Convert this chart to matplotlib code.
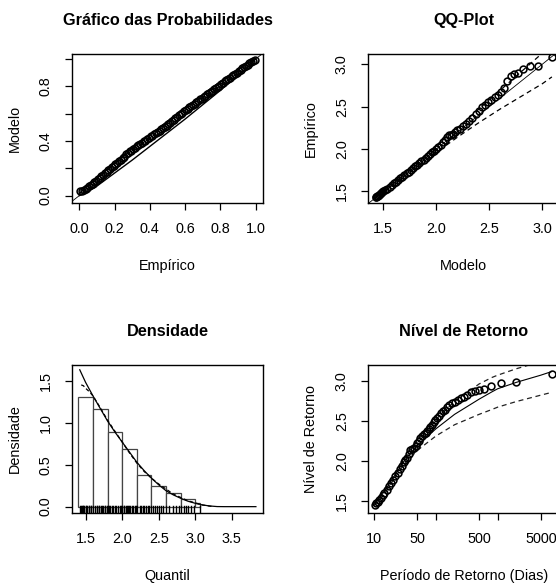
import matplotlib
matplotlib.use("Agg")
import matplotlib.pyplot as plt

plt.rcParams["font.family"] = ["Liberation Sans", "DejaVu Sans"]
plt.rcParams["font.size"] = 10.4

# ---- Grafico das probabilidades (empirico x modelo)
pp_emp = [0.005, 0.015, 0.025, 0.035, 0.045, 0.055, 0.065, 0.075, 0.085, 0.095,
          0.105, 0.115, 0.125, 0.135, 0.145, 0.155, 0.165, 0.175, 0.185, 0.195,
          0.205, 0.215, 0.225, 0.235, 0.245, 0.255, 0.265, 0.275, 0.285, 0.295,
          0.305, 0.315, 0.325, 0.335, 0.345, 0.355, 0.365, 0.375, 0.385, 0.395,
          0.405, 0.415, 0.425, 0.435, 0.445, 0.455, 0.465, 0.475, 0.485, 0.495,
          0.505, 0.515, 0.525, 0.535, 0.545, 0.555, 0.565, 0.575, 0.585, 0.595,
          0.605, 0.615, 0.625, 0.635, 0.645, 0.655, 0.665, 0.675, 0.685, 0.695,
          0.705, 0.715, 0.725, 0.735, 0.745, 0.755, 0.765, 0.775, 0.785, 0.795,
          0.805, 0.815, 0.825, 0.835, 0.845, 0.855, 0.865, 0.875, 0.885, 0.895,
          0.905, 0.915, 0.925, 0.935, 0.945, 0.955, 0.965, 0.975, 0.985, 0.995]
pp_mod = [0.031, 0.037, 0.043, 0.051, 0.059, 0.069, 0.081, 0.088, 0.102, 0.110,
          0.123, 0.131, 0.144, 0.152, 0.165, 0.173, 0.187, 0.195, 0.209, 0.217,
          0.231, 0.239, 0.255, 0.263, 0.279, 0.286, 0.302, 0.309, 0.323, 0.330,
          0.344, 0.351, 0.362, 0.368, 0.379, 0.385, 0.397, 0.403, 0.415, 0.421,
          0.433, 0.439, 0.451, 0.457, 0.469, 0.475, 0.487, 0.493, 0.505, 0.511,
          0.524, 0.530, 0.543, 0.551, 0.565, 0.573, 0.587, 0.595, 0.608, 0.616,
          0.629, 0.636, 0.648, 0.655, 0.667, 0.674, 0.686, 0.692, 0.704, 0.711,
          0.723, 0.729, 0.741, 0.748, 0.760, 0.767, 0.779, 0.786, 0.798, 0.805,
          0.817, 0.824, 0.836, 0.843, 0.855, 0.863, 0.874, 0.882, 0.893, 0.901,
          0.912, 0.920, 0.931, 0.939, 0.950, 0.958, 0.969, 0.977, 0.988, 0.996]
pp_band_x = [0.0, 0.05, 0.1, 0.2, 0.3, 0.4, 0.5, 0.6, 0.7, 0.8, 0.9, 0.95, 1.0]
pp_lower = [0.0, 0.03, 0.07, 0.165, 0.26, 0.36, 0.46, 0.56, 0.665, 0.77, 0.88, 0.935, 1.0]
pp_upper = [0.015, 0.075, 0.13, 0.24, 0.345, 0.445, 0.545, 0.645, 0.74, 0.835, 0.925, 0.965, 1.0]

# ---- QQ-plot (modelo x empirico)
qq_mod = [1.43, 1.435, 1.44, 1.45, 1.46, 1.47, 1.48, 1.49, 1.50, 1.52, 1.54, 1.56, 1.58, 1.60,
          1.62, 1.64, 1.66, 1.68, 1.70, 1.72, 1.74, 1.76, 1.78, 1.80, 1.82, 1.84, 1.86, 1.88,
          1.90, 1.92, 1.94, 1.96, 1.98, 2.00, 2.02, 2.04, 2.06, 2.08, 2.10, 2.12, 2.14, 2.16,
          2.18, 2.20, 2.22, 2.25, 2.28, 2.31, 2.34, 2.37, 2.40, 2.43, 2.46, 2.49, 2.52, 2.55,
          2.58, 2.61, 2.64, 2.67, 2.70, 2.73, 2.77, 2.82, 2.88, 2.96, 3.09]
qq_emp = [1.44, 1.44, 1.445, 1.45, 1.46, 1.47, 1.48, 1.49, 1.50, 1.515, 1.535, 1.555, 1.575, 1.595,
          1.615, 1.635, 1.655, 1.675, 1.695, 1.715, 1.735, 1.755, 1.775, 1.795, 1.815, 1.835, 1.855, 1.875,
          1.90, 1.92, 1.94, 1.96, 1.98, 2.005, 2.03, 2.05, 2.08, 2.11, 2.14, 2.16, 2.17, 2.18,
          2.20, 2.22, 2.24, 2.27, 2.30, 2.33, 2.37, 2.41, 2.45, 2.49, 2.52, 2.55, 2.58, 2.61,
          2.64, 2.67, 2.72, 2.80, 2.86, 2.88, 2.90, 2.94, 2.975, 2.98, 3.085]
qq_band_x = [1.43, 1.7, 2.0, 2.2, 2.4, 2.6, 2.8, 3.0, 3.09]
qq_lower = [1.43, 1.68, 1.96, 2.14, 2.31, 2.47, 2.62, 2.77, 2.85]
qq_upper = [1.44, 1.72, 2.04, 2.25, 2.47, 2.69, 2.91, 3.13, 3.23]

# ---- Densidade
hist_edges = [1.4, 1.6, 1.8, 2.0, 2.2, 2.4, 2.6, 2.8, 3.0, 3.07]
hist_dens = [1.31, 1.16, 0.89, 0.69, 0.38, 0.25, 0.16, 0.09, 0.04]
dens_x = [1.42, 1.5, 1.6, 1.7, 1.8, 1.9, 2.0, 2.1, 2.2, 2.3, 2.4, 2.5, 2.6, 2.7, 2.8, 2.9,
          3.0, 3.1, 3.2, 3.3, 3.4, 3.83]
dens_mod = [1.63, 1.48, 1.32, 1.17, 1.02, 0.89, 0.77, 0.65, 0.53, 0.43, 0.34, 0.26, 0.19, 0.14,
            0.10, 0.065, 0.04, 0.02, 0.008, 0.001, 0.0, 0.0]
kde_x = [1.44, 1.47, 1.5, 1.55, 1.6, 1.7, 1.8, 1.9, 2.0, 2.1, 2.2, 2.3, 2.4, 2.5, 2.6, 2.7,
         2.8, 2.9, 3.0, 3.1, 3.2, 3.25]
kde_y = [1.45, 1.44, 1.41, 1.37, 1.32, 1.18, 1.03, 0.90, 0.77, 0.64, 0.52, 0.42, 0.34, 0.27,
         0.21, 0.15, 0.11, 0.07, 0.045, 0.02, 0.006, 0.0]
rug_vals = [1.43, 1.44, 1.45, 1.46, 1.47, 1.48, 1.50, 1.51, 1.52, 1.54, 1.55, 1.57, 1.58, 1.60,
            1.63, 1.65, 1.66, 1.68, 1.69, 1.71, 1.72, 1.74, 1.76, 1.77, 1.79, 1.80, 1.82, 1.84,
            1.86, 1.88, 1.90, 1.92, 1.95, 1.97, 1.99, 2.00, 2.02, 2.03, 2.05, 2.06, 2.08, 2.10,
            2.11, 2.13, 2.15, 2.17, 2.19, 2.21, 2.24, 2.26, 2.28, 2.30, 2.33, 2.35, 2.37, 2.40,
            2.42, 2.45, 2.48, 2.50, 2.53, 2.56, 2.60, 2.64, 2.69, 2.73, 2.78, 2.80, 2.85, 2.88,
            2.90, 2.94, 2.98, 3.07]

# ---- Nivel de retorno
rl_period = [10.3, 10.7, 11.3, 12, 12.7, 13.6, 14.6, 15.8, 17, 18.5, 20, 22, 24, 26, 28, 30,
             32, 34, 36, 38, 41, 44, 47, 50, 53, 56, 60, 64, 68, 72, 76, 81, 86, 92, 98, 105,
             112, 120, 130, 140, 150, 165, 180, 200, 225, 250, 280, 320, 370, 430, 500, 600,
             790, 1150, 2000, 7500]
rl_level = [1.45, 1.47, 1.49, 1.51, 1.54, 1.57, 1.60, 1.64, 1.68, 1.72, 1.76, 1.81, 1.85, 1.90,
            1.94, 1.98, 2.01, 2.04, 2.08, 2.13, 2.15, 2.16, 2.18, 2.22, 2.25, 2.28, 2.31, 2.33,
            2.35, 2.37, 2.40, 2.42, 2.45, 2.48, 2.51, 2.54, 2.56, 2.60, 2.62, 2.64, 2.67, 2.70,
            2.72, 2.74, 2.76, 2.79, 2.80, 2.82, 2.86, 2.875, 2.89, 2.90, 2.94, 2.975, 2.98, 3.085]
rl_curve_x = [10, 12, 15, 20, 30, 50, 100, 200, 500, 800, 1000, 2000, 5000, 7500]
rl_curve = [1.45, 1.53, 1.63, 1.78, 1.99, 2.19, 2.40, 2.58, 2.77, 2.86, 2.90, 2.98, 3.07, 3.115]
rl_upper = [1.46, 1.55, 1.66, 1.81, 2.03, 2.26, 2.52, 2.74, 2.96, 3.04, 3.07, 3.15, 3.24, 3.28]
rl_lower = [1.44, 1.51, 1.60, 1.75, 1.95, 2.13, 2.31, 2.45, 2.58, 2.64, 2.67, 2.74, 2.82, 2.855]

W, H = 556, 585
fig = plt.figure(figsize=(W / 100, H / 100), dpi=100)


def make_axes(x0, y0, x1, y1):
    # caixa em pixels (origem no topo)
    return fig.add_axes([x0 / W, 1 - y1 / H, (x1 - x0) / W, (y1 - y0) / H])


def style(ax, title, xlabel, ylabel):
    ax.set_title(title, fontsize=11.7, fontweight="bold", pad=21)
    ax.set_xlabel(xlabel, labelpad=16.5)
    ax.set_ylabel(ylabel, labelpad=12)
    ax.tick_params(direction="out", length=5, width=0.9, pad=9, colors="black")
    ax.tick_params(axis="y", labelrotation=90)
    for lbl in ax.get_yticklabels():
        lbl.set_va("center")
    for s in ax.spines.values():
        s.set_linewidth(1.0)


mk = dict(marker="o", ls="none", mfc="none", mec="black", ms=4.9, mew=1.15)

# Grafico das Probabilidades
ax1 = make_axes(72.3, 54, 263, 202.7)
ax1.plot([-0.1, 1.1], [-0.1, 1.1], color="black", lw=0.6)
ax1.plot(pp_band_x, pp_lower, color="black", lw=1.0)
ax1.plot(pp_band_x, pp_upper, color="black", lw=1.0)
ax1.plot(pp_emp, pp_mod, **mk)
ax1.set_xlim(-0.04, 1.0425)
ax1.set_ylim(-0.052, 1.037)
ax1.set_xticks([0, 0.2, 0.4, 0.6, 0.8, 1.0])
ax1.set_xticklabels(["0.0", "0.2", "0.4", "0.6", "0.8", "1.0"])
ax1.set_yticks([0, 0.2, 0.4, 0.6, 0.8, 1.0])
ax1.set_yticklabels(["0.0", "", "0.4", "", "0.8", ""])
style(ax1, "Gráfico das Probabilidades", "Empírico", "Modelo")

# QQ-Plot
ax2 = make_axes(368.3, 54, 559, 202.7)
ax2.plot([1.0, 3.5], [1.0, 3.5], color="black", lw=0.6)
ax2.plot(qq_band_x, qq_lower, color="black", lw=0.9, ls=(0, (4, 3)))
ax2.plot(qq_band_x, qq_upper, color="black", lw=0.9, ls=(0, (4, 3)))
ax2.plot(qq_mod, qq_emp, **mk)
ax2.set_xlim(1.359, 3.157)
ax2.set_ylim(1.368, 3.12)
ax2.set_xticks([1.5, 2.0, 2.5, 3.0])
ax2.set_xticklabels(["1.5", "2.0", "2.5", "3.0"])
ax2.set_yticks([1.5, 2.0, 2.5, 3.0])
ax2.set_yticklabels(["1.5", "2.0", "2.5", "3.0"])
style(ax2, "QQ-Plot", "Modelo", "Empírico")

# Densidade
ax3 = make_axes(72.3, 365, 263, 512.7)
ax3.hist(hist_edges[:-1], bins=hist_edges, weights=hist_dens, histtype="bar",
         facecolor="white", edgecolor="#444444", linewidth=0.9)
ax3.plot(dens_x, dens_mod, color="black", lw=0.9)
ax3.plot(kde_x, kde_y, color="black", lw=0.9, ls=(0, (3, 2)))
for v in rug_vals:
    ax3.axvline(v, ymin=0, ymax=0.045, color="black", lw=1.0)
ax3.set_xlim(1.318, 3.927)
ax3.set_ylim(-0.072, 1.687)
ax3.set_xticks([1.5, 2.0, 2.5, 3.0, 3.5])
ax3.set_xticklabels(["1.5", "2.0", "2.5", "3.0", "3.5"])
ax3.set_yticks([0.0, 0.5, 1.0, 1.5])
ax3.set_yticklabels(["0.0", "0.5", "1.0", "1.5"])
style(ax3, "Densidade", "Quantil", "Densidade")

# Nivel de Retorno
ax4 = make_axes(368.3, 365, 559, 512.7)
ax4.set_xscale("log")
ax4.plot(rl_curve_x, rl_curve, color="black", lw=0.8)
ax4.plot(rl_curve_x, rl_upper, color="#222222", lw=0.9, ls=(0, (4, 3)))
ax4.plot(rl_curve_x, rl_lower, color="#222222", lw=0.9, ls=(0, (4, 3)))
ax4.plot(rl_period, rl_level, **mk)
ax4.set_xlim(8.0, 9840)
ax4.set_ylim(1.35, 3.197)
ax4.set_xticks([10, 50, 100, 500, 1000, 5000])
ax4.set_xticklabels(["10", "50", "", "500", "", "5000"])
ax4.xaxis.set_minor_locator(matplotlib.ticker.NullLocator())
ax4.set_yticks([1.5, 2.0, 2.5, 3.0])
ax4.set_yticklabels(["1.5", "2.0", "2.5", "3.0"])
style(ax4, "Nível de Retorno", "Período de Retorno (Dias)", "Nível de Retorno")

fig.savefig("out.png", dpi=100)
